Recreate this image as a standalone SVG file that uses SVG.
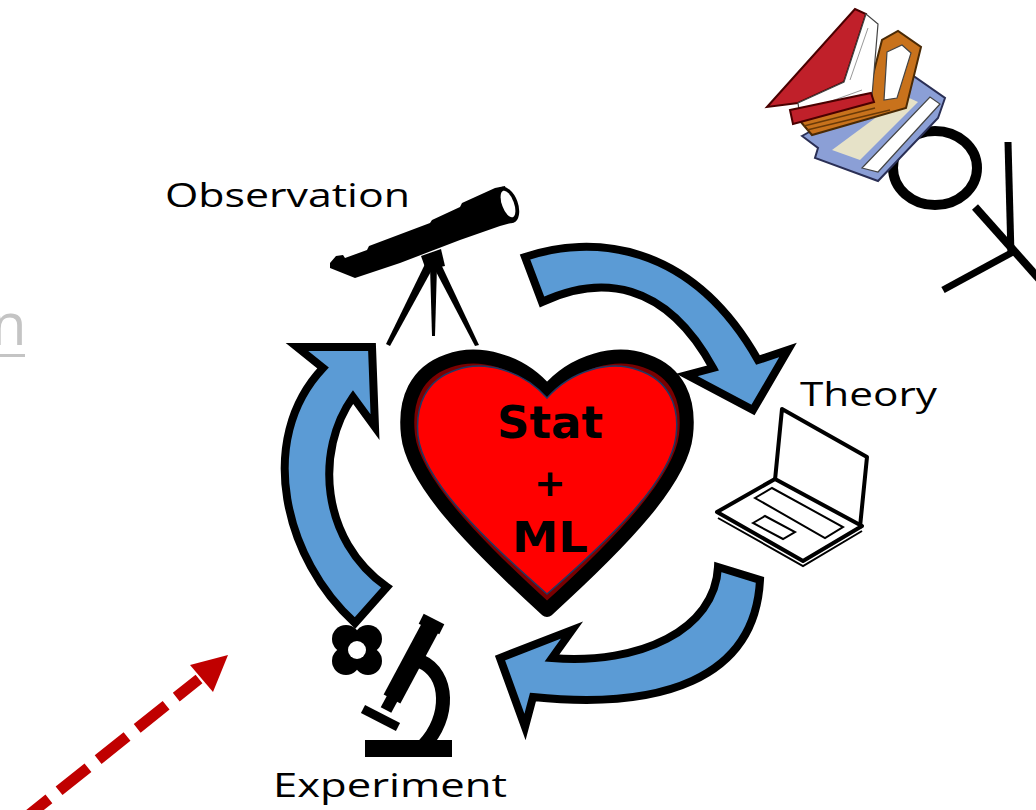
<svg xmlns="http://www.w3.org/2000/svg" width="1036" height="810" viewBox="0 0 1036 810">
  <defs>
    <style>
      .label { font-family: "Open Sans", "DejaVu Sans", sans-serif; font-size: 33px; fill: #000; }
      .core { font-family: "DejaVu Sans", "Liberation Sans", sans-serif; font-weight: bold; fill: #000; text-anchor: middle; }
      .cycle { fill: #5b9bd5; stroke: #000; stroke-width: 8; stroke-linejoin: miter; stroke-miterlimit: 10; }
      .ink { fill: #000; }
      .page { fill: #fff; stroke: #444; stroke-width: 1.2; }
    </style>
  </defs>

  <rect width="1036" height="810" fill="#fff"/>

  <!-- clipped hyperlink fragment at the left edge -->
  <g id="link-fragment">
    <text x="-9" y="345" font-family="Open Sans, DejaVu Sans, sans-serif" font-size="58" fill="#c4c4c4">n</text>
    <rect x="0" y="354" width="25" height="3" fill="#c4c4c4"/>
  </g>

  <!-- reader with books (top right) -->
  <g id="reader">
    <ellipse cx="935" cy="168" rx="42" ry="37" fill="none" stroke="#000" stroke-width="10"/>
    <line x1="975" y1="207" x2="1040" y2="280" stroke="#000" stroke-width="8"/>
    <line x1="1008" y1="142" x2="1011" y2="255" stroke="#000" stroke-width="7"/>
    <line x1="943" y1="290" x2="1013" y2="252" stroke="#000" stroke-width="7"/>
    <!-- blue book -->
    <polygon points="802,136 912,75 945,98 938,118 878,181 815,158 818,148" fill="#8b9fd6" stroke="#2a2f55" stroke-width="2"/>
    <polygon points="832,150 905,96 918,102 860,160" fill="#e6e2c8"/>
    <polygon class="page" points="862,168 930,97 940,104 878,172"/>
    <!-- orange book -->
    <polygon points="800,121 866,102 882,40 898,31 921,47 906,108 812,135" fill="#c8721c" stroke="#4a2a05" stroke-width="2"/>
    <polygon class="page" points="887,52 902,45 911,53 897,98 884,100"/>
    <line x1="804" y1="126" x2="875" y2="108" stroke="#6a3a08" stroke-width="1.5"/>
    <line x1="807" y1="130" x2="890" y2="110" stroke="#6a3a08" stroke-width="1.5"/>
    <!-- red book -->
    <polygon points="767,107 855,9 866,14 844,82 798,103" fill="#c0202a" stroke="#4a0000" stroke-width="2"/>
    <polygon class="page" points="798,103 844,82 866,14 878,24 872,96 800,117"/>
    <line x1="812" y1="108" x2="862" y2="90" stroke="#999" stroke-width="1"/>
    <line x1="850" y1="80" x2="868" y2="28" stroke="#999" stroke-width="1"/>
    <polygon points="790,110 871,93 874,102 793,124" fill="#c0202a" stroke="#4a0000" stroke-width="2"/>
  </g>

  <!-- connectors: the three curved cycle arrows and the dashed pointer -->
  <g id="connectors">
    <path class="cycle" d="M525,257 C590,235 690,240 758,360 L788,350 L753,410 L687,375 L713,368 C665,280 600,275 542,302 Z"/>
    <path class="cycle" d="M760,580 C755,680 660,710 533,697 L525,727 L500,658 L572,630 L552,658 C640,665 715,630 718,567 Z"/>
    <path class="cycle" d="M355,623 C285,560 255,440 323,368 L297,347 L372,347 L375,427 L353,397 C315,450 320,540 387,587 Z"/>
    <line x1="20" y1="822" x2="199" y2="679" stroke="#c00000" stroke-width="11" stroke-dasharray="37 13"/>
    <polygon points="228,655 190,665 213,692" fill="#c00000"/>
  </g>

  <!-- centre: heart -->
  <g id="heart">
    <path d="M547,392 C520,360 478,350 448,361 C416,372 404,400 408,435 C413,480 470,540 547,610 C624,540 681,480 686,435 C690,400 678,372 646,361 C616,350 574,360 547,392 Z" fill="#7a0000" stroke="#000" stroke-width="14" stroke-linejoin="round"/>
    <path d="M547,398 C522,370 484,360 456,370 C426,380 415,405 418,436 C423,478 476,532 547,594 C618,532 671,478 676,436 C680,405 668,380 638,370 C610,360 572,370 547,398 Z" fill="#ff0000" stroke="#1f3864" stroke-width="1.5"/>
    <text class="core" x="550" y="438" font-size="44" textLength="106" lengthAdjust="spacingAndGlyphs">Stat</text>
    <text class="core" x="550" y="496" font-size="38">+</text>
    <text class="core" x="550" y="552" font-size="42" textLength="76" lengthAdjust="spacingAndGlyphs">ML</text>
  </g>

  <!-- observation: telescope -->
  <g id="observation">
    <text class="label" x="165" y="207" textLength="245" lengthAdjust="spacingAndGlyphs">Observation</text>
    <path class="ink" d="M330,263 L336,256 L343,255 L345,258 L367,250 L369,246 L430,223 L432,220 L460,207 L462,203 L495,188 L505,186 L514,222 L500,226 L460,240 L400,263 L355,278 L330,268 Z"/>
    <ellipse cx="507" cy="205" rx="11" ry="19" transform="rotate(-20 507 205)" class="ink"/>
    <ellipse cx="508" cy="204" rx="6" ry="14" transform="rotate(-20 508 204)" fill="#fff"/>
    <polygon class="ink" points="421,256 441,249 445,266 426,270"/>
    <polygon class="ink" points="426,262 434,266 390,346 386,344"/>
    <polygon class="ink" points="430,266 437,266 435,336 432,336"/>
    <polygon class="ink" points="433,266 440,262 479,345 475,346"/>
  </g>

  <!-- theory: laptop -->
  <g id="theory">
    <text class="label" x="800" y="406" textLength="137" lengthAdjust="spacingAndGlyphs">Theory</text>
    <polygon points="775,480 782,409 867,457 860,527" fill="#fff" stroke="#000" stroke-width="4" stroke-linejoin="round"/>
    <polygon points="717,512 775,479 862,526 803,561" fill="#fff" stroke="#000" stroke-width="4" stroke-linejoin="round"/>
    <polyline points="718,518 803,566 862,531" fill="none" stroke="#000" stroke-width="2"/>
    <polygon points="755,498 772,488 843,527 825,538" fill="none" stroke="#000" stroke-width="2"/>
    <polygon points="753,523 765,516 795,532 783,539" fill="none" stroke="#000" stroke-width="2"/>
  </g>

  <!-- experiment: microscope and specimen -->
  <g id="experiment">
    <text class="label" x="273" y="797" textLength="234" lengthAdjust="spacingAndGlyphs">Experiment</text>
    <g class="ink">
      <circle cx="346" cy="639" r="14"/>
      <circle cx="368" cy="639" r="14"/>
      <circle cx="346" cy="661" r="14"/>
      <circle cx="368" cy="661" r="14"/>
      <circle cx="357" cy="650" r="16"/>
    </g>
    <circle cx="357" cy="650" r="9" fill="#fff"/>
    <line x1="434" y1="619" x2="429" y2="629" stroke="#000" stroke-width="23"/>
    <line x1="430" y1="628" x2="392" y2="699" stroke="#000" stroke-width="19"/>
    <line x1="393" y1="697" x2="386" y2="710" stroke="#000" stroke-width="12"/>
    <line x1="363" y1="709" x2="398" y2="727" stroke="#000" stroke-width="9"/>
    <path d="M420,661 C450,674 450,718 424,745" fill="none" stroke="#000" stroke-width="14"/>
    <rect x="365" y="740" width="87" height="17" class="ink"/>
  </g>
</svg>
